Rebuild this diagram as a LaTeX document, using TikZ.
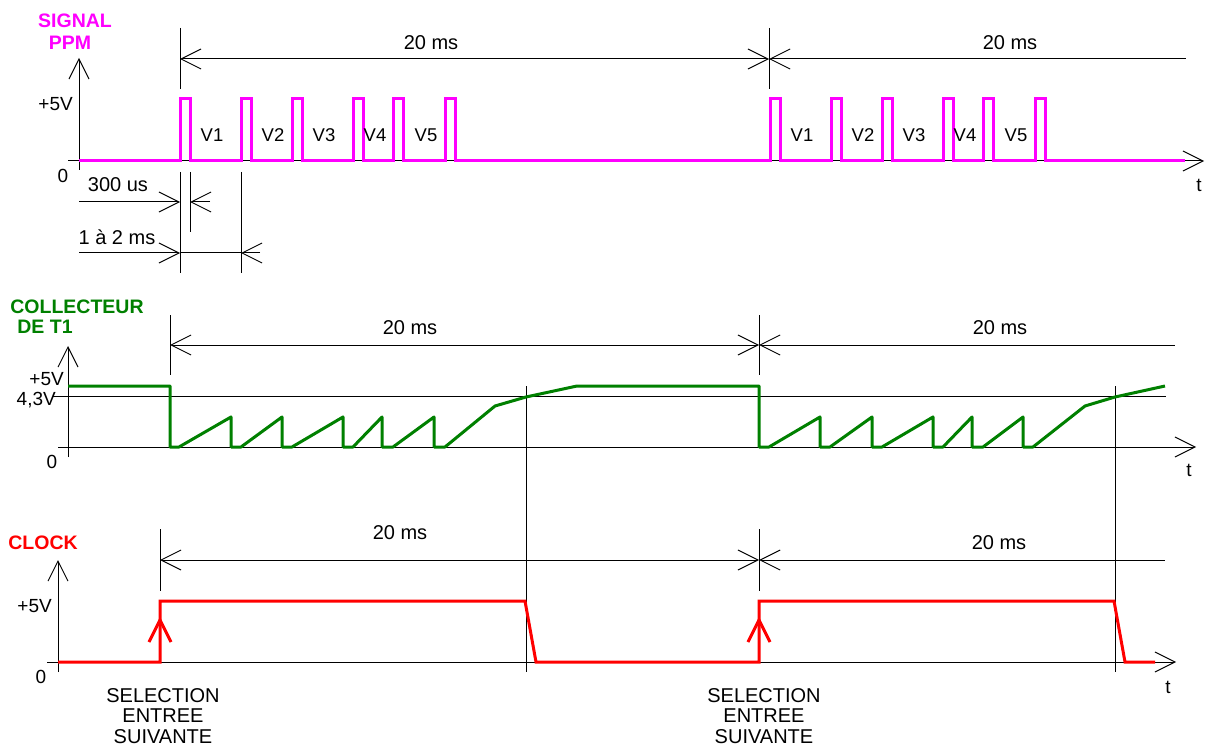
\documentclass[tikz,border=0pt]{standalone}
\usepackage{fontspec}
\setmainfont{Liberation Sans}
\usetikzlibrary{arrows.meta}
\definecolor{ppmcol}{RGB}{255,0,255}
\definecolor{collcol}{RGB}{0,128,0}
\definecolor{clkcol}{RGB}{255,0,0}
\tikzset{
  >={Straight Barb[length=20pt,width=20pt]},
  thinline/.style={line width=1pt, black},
  sigline/.style={line width=3pt},
  lab/.style={font=\fontsize{19}{22}\selectfont, inner sep=0pt},
  dimlab/.style={font=\fontsize{20}{22}\selectfont, inner sep=0pt},
  vlab/.style={font=\fontsize{18.5}{22}\selectfont, inner sep=0pt},
  titlelab/.style={font=\fontsize{19.5}{22}\bfseries, inner sep=0pt},
  sellab/.style={font=\fontsize{20}{20.5}\selectfont, inner sep=0pt, align=center},
}
\begin{document}
\begin{tikzpicture}[x=1pt,y=-1pt]
\useasboundingbox (0,0) rectangle (1205,746);

% ================= PPM SIGNAL =================
\draw[thinline] (68,161) -- (1186,161);
\draw[thinline,->] (1186,161) -- (1204,161);
\draw[thinline,->] (79,170) -- (79,58);
% dimension 20 ms
\draw[thinline] (180,28) -- (180,89);
\draw[thinline] (769,28) -- (769,89);
\draw[thinline,<->] (180,59) -- (769,59);
\draw[thinline,<-] (769,59) -- (1186,59);
% 300 us
\draw[thinline] (180,172) -- (180,273);
\draw[thinline] (190,172) -- (190,232);
\draw[thinline] (241,172) -- (241,273);
\draw[thinline,->] (79,202) -- (180,202);
\draw[thinline,->] (210,202) -- (190,202);
% 1 a 2 ms
\draw[thinline,->] (79,253) -- (180,253);
\draw[thinline] (180,253) -- (241,253);
\draw[thinline,->] (260,253) -- (241,253);
% pink pulses
\draw[sigline,ppmcol] (79,161)
  \foreach \p in {180,241,292,353,393,445,770,831,882,943,983,1035}
    { -- (\p,161) -- (\p,99) -- ({\p+10},99) -- ({\p+10},161) }
  -- (1185,161);
% labels
\node[titlelab,ppmcol] (sig1) at (75,21) {SIGNAL};
\node[titlelab,ppmcol] (sig2) at (70,43) {PPM};
\node[lab,anchor=east] (p5v) at (73,104) {+5V};
\node[lab] (p0) at (63,176) {0};
\node[lab] (pt) at (1199,185) {t};
\node[dimlab] (pd1) at (431,43) {20 ms};
\node[dimlab] (pd2) at (1010,43) {20 ms};
\node[dimlab] (p300) at (118,185) {300 us};
\node[dimlab] (p12) at (117,237) {1 à 2 ms};
\foreach \x/\v [count=\i] in {212/V1,273/V2,324/V3,375/V4,426/V5,802/V1,863/V2,914/V3,965/V4,1016/V5}
  \node[vlab] (v\i) at (\x,135) {\v};

% ================= COLLECTEUR =================
\draw[thinline] (58,447) -- (1178,447);
\draw[thinline,->] (1178,447) -- (1196,447);
\draw[thinline,->] (68,457) -- (68,346);
\draw[thinline] (53,396) -- (1166,396);
\draw[thinline] (170,315) -- (170,375);
\draw[thinline] (759,315) -- (759,375);
\draw[thinline,<->] (170,345) -- (759,345);
\draw[thinline,<-] (759,345) -- (1175,345);
% vertical marker lines
\draw[thinline] (526,386) -- (526,672);
\draw[thinline] (1115,386) -- (1115,672);
% green waveform
\draw[sigline,collcol,line join=round] (68,386) -- (170,386) -- (170,447) -- (179,447)
  -- (231,417) -- (231,447) -- (241,447)
  -- (282,417) -- (282,447) -- (292,447)
  -- (343,417) -- (343,447) -- (353,447)
  -- (382,417) -- (382,447) -- (393,447)
  -- (434,417) -- (434,447) -- (445,447)
  -- (495,406) -- (526,397) -- (577,386) -- (759,386) -- (759,447) -- (769,447)
  -- (820,417) -- (820,447) -- (830,447)
  -- (872,417) -- (872,447) -- (882,447)
  -- (933,417) -- (933,447) -- (943,447)
  -- (972,417) -- (972,447) -- (983,447)
  -- (1023,417) -- (1023,447) -- (1033,447)
  -- (1085,406) -- (1115,397) -- (1165,386);
\node[titlelab,collcol] (col1) at (77,307) {COLLECTEUR};
\node[titlelab,collcol] (col2) at (45,327) {DE T1};
\node[lab,anchor=east] (c5v) at (64,379) {+5V};
\node[lab,anchor=east] (c43) at (56,400) {4,3V};
\node[lab] (c0) at (52,462) {0};
\node[lab] (ct) at (1189,470) {t};
\node[dimlab] (cd1) at (410,328) {20 ms};
\node[dimlab] (cd2) at (1000,328) {20 ms};

% ================= CLOCK =================
\draw[thinline] (47,662) -- (1158,662);
\draw[thinline,->] (1158,662) -- (1176,662);
\draw[thinline,->] (58,672) -- (58,560);
\draw[thinline] (160,529) -- (160,591);
\draw[thinline] (759,529) -- (759,591);
\draw[thinline,<->] (160,560) -- (759,560);
\draw[thinline,<-] (759,560) -- (1165,560);
\draw[sigline,clkcol] (58,662) -- (160,662) -- (160,601) -- (525,601) -- (536,662)
  -- (759,662) -- (759,601) -- (1114,601) -- (1125,662) -- (1155,662);
\draw[sigline,clkcol] (149,642) -- (160,620) -- (171,642);
\draw[sigline,clkcol] (748,642) -- (759,620) -- (770,642);
\node[titlelab,clkcol] (clk) at (43,543) {CLOCK};
\node[lab,anchor=east] (k5v) at (52,606) {+5V};
\node[lab] (k0) at (41,677) {0};
\node[lab] (kt) at (1168,687) {t};
\node[dimlab] (kd1) at (400,533) {20 ms};
\node[dimlab] (kd2) at (999,543) {20 ms};
\node[sellab] (sel1) at (163,716) {SELECTION\\ENTREE\\SUIVANTE};
\node[sellab] (sel2) at (764,716) {SELECTION\\ENTREE\\SUIVANTE};
\end{tikzpicture}
\end{document}
